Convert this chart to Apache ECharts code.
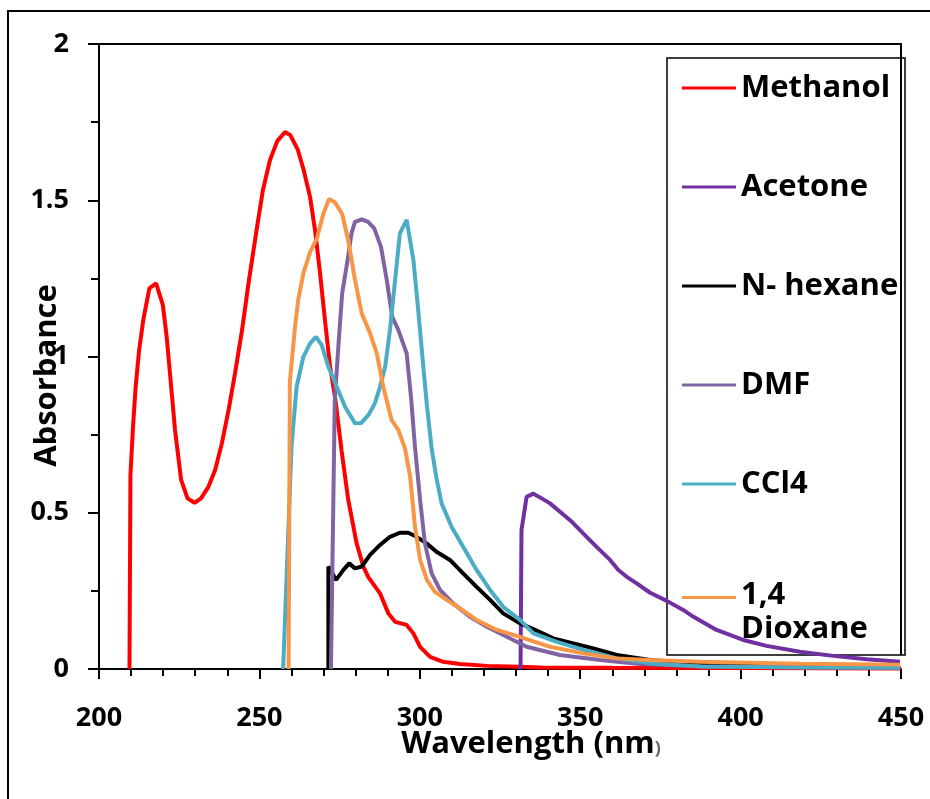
<!DOCTYPE html>
<html>
<head>
<meta charset="utf-8">
<script src="https://cdn.jsdelivr.net/npm/echarts@6/dist/echarts.min.js"></script>
<style>
  html, body { margin: 0; padding: 0; background: #fff; }
  #chart { width: 930px; height: 799px; }
</style>
</head>
<body>
<div id="chart"></div>
<script>
// 数据：[波长 nm, 吸光度]
const methanol = [
  [209.5, 0], [209.8, 0.62], [210.6, 0.775], [211.4, 0.90], [212.5, 1.02], [213.8, 1.117],
  [215.7, 1.218], [217.8, 1.234], [219.9, 1.165], [221.1, 1.063], [222.4, 0.914], [223.7, 0.765],
  [225.6, 0.605], [227.6, 0.546], [229.8, 0.532], [231.8, 0.546], [234.1, 0.583], [236.2, 0.637],
  [238.3, 0.722], [240.4, 0.829], [242.4, 0.946], [244.6, 1.085], [246.6, 1.234], [249.2, 1.41],
  [251.1, 1.533], [253.3, 1.629], [255.6, 1.69], [258.0, 1.718], [259.6, 1.709], [262.0, 1.661],
  [263.8, 1.597], [265.8, 1.51], [267.4, 1.40], [268.9, 1.267], [270.5, 1.11], [272.0, 0.97],
  [273.7, 0.861], [275.6, 0.70], [277.7, 0.541], [280.3, 0.402], [282.4, 0.328], [283.9, 0.295],
  [287.6, 0.242], [290.2, 0.178], [292.3, 0.151], [295.9, 0.141], [298.0, 0.114], [300.1, 0.071],
  [303.2, 0.039], [307.3, 0.023], [312.5, 0.016], [320.9, 0.010], [331.2, 0.007], [337.5, 0.005],
  [360, 0.004], [400, 0.003], [450, 0.002]
];
const acetone = [
  [331.4, 0], [331.7, 0.445], [333.3, 0.551], [335.4, 0.561], [338.0, 0.546], [340.6, 0.53],
  [343.7, 0.503], [347.4, 0.471], [351.0, 0.433], [355.1, 0.391], [359.3, 0.349], [361.9, 0.317],
  [364.5, 0.295], [367.6, 0.274], [371.8, 0.244], [377.0, 0.218], [382.1, 0.189], [385.3, 0.167],
  [392.5, 0.125], [400.8, 0.093], [408.1, 0.074], [418.5, 0.055], [428.9, 0.042], [439.3, 0.031],
  [449.7, 0.023]
];
const nHexane = [
  [271.5, 0], [271.5, 0.328], [273.9, 0.285], [276.2, 0.317], [278.0, 0.338], [279.8, 0.322],
  [281.9, 0.328], [284.5, 0.365], [287.6, 0.397], [290.7, 0.423], [293.8, 0.436], [296.4, 0.436],
  [299.0, 0.423], [302.1, 0.402], [305.2, 0.375], [309.4, 0.349], [313.5, 0.306], [317.7, 0.263],
  [321.9, 0.221], [326.0, 0.178], [331.2, 0.146], [335.4, 0.128], [341.6, 0.098], [347.9, 0.082],
  [354.1, 0.066], [361.4, 0.045], [371.8, 0.029], [387.3, 0.015], [418.5, 0.010], [449.7, 0.008]
];
const dmf = [
  [272.3, 0], [273.5, 0.86], [274.6, 1.031], [275.8, 1.202], [277.5, 1.309], [278.7, 1.394],
  [279.8, 1.431], [281.9, 1.439], [283.9, 1.431], [285.8, 1.41], [287.9, 1.351], [289.7, 1.245],
  [291.4, 1.127], [293.3, 1.085], [295.9, 1.01], [297.3, 0.866], [298.5, 0.71], [300.1, 0.541],
  [301.6, 0.402], [303.7, 0.306], [306.3, 0.253], [310.4, 0.21], [315.6, 0.167], [320.9, 0.135],
  [327.1, 0.103], [333.3, 0.071], [343.7, 0.045], [356.2, 0.029], [368.6, 0.016], [387.3, 0.008],
  [418.5, 0.006], [449.7, 0.005]
];
const ccl4 = [
  [257.4, 0], [260.0, 0.711], [261.6, 0.903], [263.7, 0.999], [265.8, 1.042], [267.6, 1.063],
  [269.4, 1.037], [271.5, 0.967], [274.1, 0.903], [276.7, 0.839], [279.8, 0.786], [281.7, 0.787],
  [284.0, 0.813], [286.0, 0.85], [287.6, 0.903], [289.2, 0.967], [290.7, 1.085], [292.3, 1.245],
  [293.8, 1.394], [295.9, 1.437], [298.0, 1.309], [299.6, 1.138], [301.1, 0.967], [302.2, 0.845],
  [303.7, 0.705], [305.2, 0.61], [306.8, 0.53], [309.9, 0.455], [313.5, 0.391], [317.7, 0.317],
  [321.9, 0.253], [326.0, 0.199], [331.2, 0.157], [335.4, 0.114], [342.7, 0.087], [351.0, 0.061],
  [361.4, 0.034], [371.8, 0.018], [387.5, 0.008], [418.5, 0.005], [449.7, 0.004]
];
const dioxane = [
  [259.1, 0], [259.5, 0.92], [261.1, 1.095], [262.1, 1.181], [263.7, 1.266], [265.8, 1.334],
  [267.9, 1.377], [269.9, 1.456], [271.7, 1.504], [273.6, 1.493], [275.8, 1.456], [277.7, 1.371],
  [279.8, 1.245], [281.9, 1.138], [284.5, 1.074], [286.6, 1.01], [288.6, 0.903], [291.2, 0.797],
  [293.3, 0.765], [295.4, 0.705], [297.0, 0.615], [298.5, 0.455], [300.1, 0.349], [302.2, 0.285],
  [304.7, 0.247], [308.4, 0.221], [312.5, 0.194], [317.7, 0.157], [324.0, 0.125], [331.2, 0.103],
  [340.6, 0.071], [351.0, 0.05], [361.4, 0.034], [371.8, 0.029], [387.5, 0.023], [418.5, 0.017],
  [449.7, 0.014]
];

const seriesNames = ['Methanol', 'Acetone', 'N- hexane', 'DMF', 'CCl4', '1,4 Dioxane'];
const seriesColors = ['#FF0000', '#7030A0', '#000000', '#8064A2', '#4BACC6', '#F79646'];
const seriesData = [methanol, acetone, nHexane, dmf, ccl4, dioxane];

const FONT = '"Open Sans", Lato, sans-serif';

const chart = echarts.init(document.getElementById('chart'));

const legendText = { fontFamily: FONT, fontWeight: 'bold', fontSize: 31, lineHeight: 36, color: '#000' };

const option = {
  animation: false,
  backgroundColor: '#fff',
  grid: { left: 99, right: 29, top: 44, bottom: 130, containLabel: false, outerBoundsMode: 'none' },
  xAxis: {
    type: 'value',
    min: 200, max: 450, interval: 50,
    axisLine: { lineStyle: { color: '#000', width: 2 } },
    axisTick: { length: 10, lineStyle: { color: '#000', width: 2 } },
    minorTick: { show: true, splitNumber: 5, length: 7, lineStyle: { color: '#000', width: 2 } },
    splitLine: { show: false },
    axisLabel: { margin: 36, fontFamily: FONT, fontWeight: 'bold', fontSize: 27, color: '#000' },
    name: 'Wavelength (nm{p|)}',
    nameLocation: 'middle',
    nameGap: 60,
    nameMoveOverlap: false,
    nameTextStyle: {
      fontFamily: FONT, fontWeight: 'bold', fontSize: 31, color: '#000', padding: [0, 0, 0, 62],
      rich: { p: { fontFamily: FONT, fontSize: 18, color: '#666', verticalAlign: 'bottom', padding: [0, 0, 2, 0] } }
    }
  },
  yAxis: {
    type: 'value',
    min: 0, max: 2, interval: 0.5,
    axisLine: { show: true, lineStyle: { color: '#000', width: 2 } },
    axisTick: { show: true, length: 11, lineStyle: { color: '#000', width: 2 } },
    minorTick: { show: true, splitNumber: 2, length: 8, lineStyle: { color: '#000', width: 2 } },
    splitLine: { show: false },
    axisLabel: { margin: 30, fontFamily: FONT, fontWeight: 'bold', fontSize: 27, color: '#000' },
    name: 'Absorbance',
    nameLocation: 'middle',
    nameGap: 36,
    nameMoveOverlap: false,
    nameTextStyle: { fontFamily: FONT, fontWeight: 'bold', fontSize: 31, color: '#000', padding: [0, 38, 0, 0] }
  },
  legend: [
    {
      orient: 'vertical', left: 682, top: 70, padding: 0,
      itemWidth: 54, itemHeight: 14, itemGap: 63,
      icon: 'path://M0,0 L54,0 L54,3 L0,3 Z',
      data: seriesNames.slice(0, 5),
      textStyle: legendText
    },
    {
      // 两行文字：图标与第一行对齐
      orient: 'vertical', left: 682, top: 578, padding: 0,
      itemWidth: 54, itemHeight: 32,
      icon: 'path://M0,0 L54,0 L54,3 L0,3 Z M0,32 Z',
      data: seriesNames.slice(5),
      formatter: () => '1,4\nDioxane',
      textStyle: Object.assign({}, legendText, { lineHeight: 34 })
    }
  ],
  graphic: [
    // 外框
    { type: 'polyline', silent: true, shape: { points: [[8, 810], [8, 11], [940, 11]] },
      style: { stroke: '#000', lineWidth: 2, fill: null } },
    // 绘图区上边框与右边框
    { type: 'polyline', silent: true, shape: { points: [[98, 44], [901, 44], [901, 655]] },
      style: { stroke: '#000', lineWidth: 2, fill: null } },
    // 图例框
    { type: 'rect', silent: true, shape: { x: 667, y: 58, width: 238, height: 597 },
      style: { stroke: '#000', lineWidth: 1.5, fill: null } }
  ],
  series: seriesNames.map((name, i) => ({
    name: name,
    type: 'line',
    data: seriesData[i],
    showSymbol: false,
    symbol: 'none',
    color: seriesColors[i],
    lineStyle: { color: seriesColors[i], width: 4 },
    itemStyle: { color: seriesColors[i] }
  }))
};

chart.setOption(option);
</script>
</body>
</html>
